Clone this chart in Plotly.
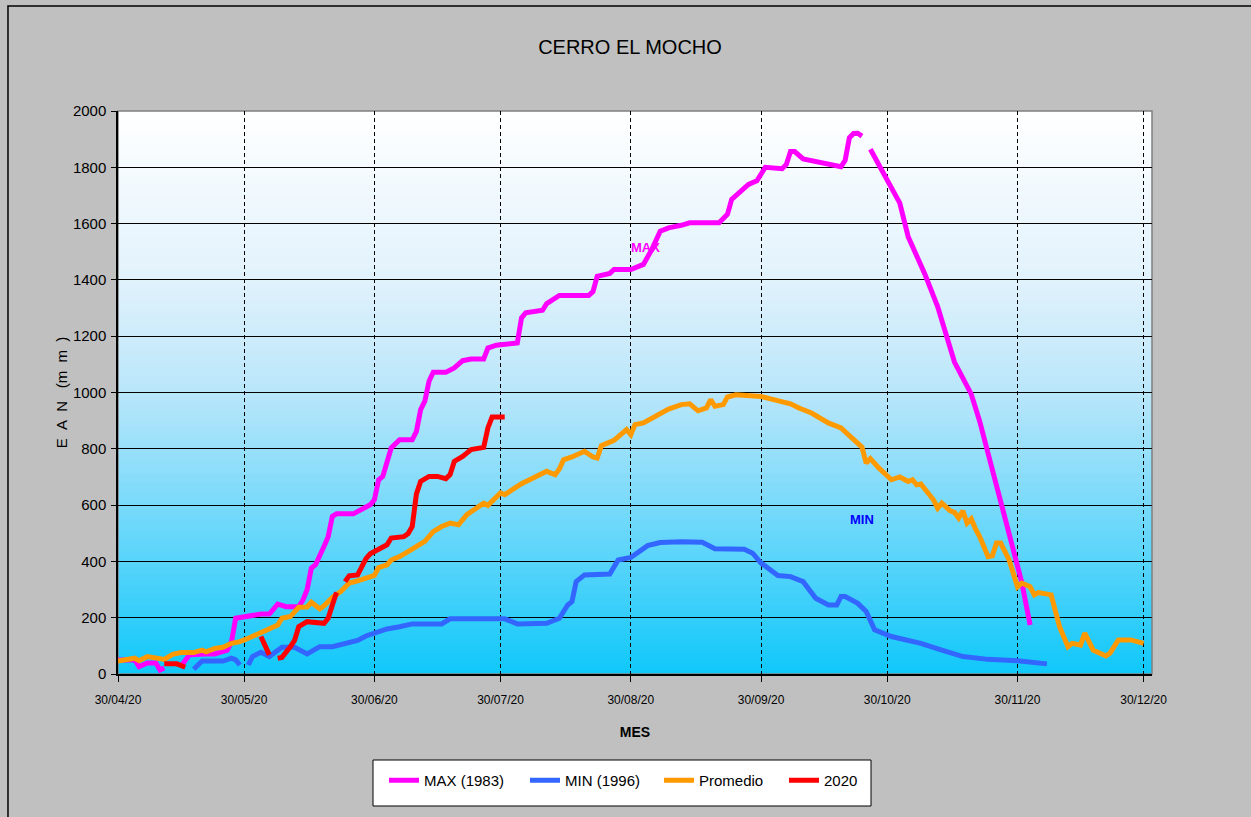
import plotly.graph_objects as go

# EAN (mm) por fecha
max_fechas = ["2020-04-30", "2020-05-04", "2020-05-05", "2020-05-07", "2020-05-09", "2020-05-10", "2020-05-11",
              "2020-05-12", "2020-05-15", "2020-05-17", "2020-05-21", "2020-05-23", "2020-05-26", "2020-05-27",
              "2020-05-28", "2020-05-30", "2020-06-03", "2020-06-05", "2020-06-07", "2020-06-09", "2020-06-12",
              "2020-06-13", "2020-06-14", "2020-06-15", "2020-06-16", "2020-06-18", "2020-06-19", "2020-06-20",
              "2020-06-21", "2020-06-25", "2020-06-27", "2020-06-29", "2020-06-30", "2020-07-01", "2020-07-02",
              "2020-07-04", "2020-07-06", "2020-07-09", "2020-07-10", "2020-07-11", "2020-07-12", "2020-07-13",
              "2020-07-14", "2020-07-17", "2020-07-19", "2020-07-21", "2020-07-23", "2020-07-26", "2020-07-27",
              "2020-07-29", "2020-08-03", "2020-08-04", "2020-08-05", "2020-08-09", "2020-08-10", "2020-08-13",
              "2020-08-20", "2020-08-21", "2020-08-22", "2020-08-25", "2020-08-26", "2020-08-30", "2020-09-02",
              "2020-09-04", "2020-09-06", "2020-09-08", "2020-09-11", "2020-09-13", "2020-09-20", "2020-09-22",
              "2020-09-23", "2020-09-25", "2020-09-27", "2020-09-29", "2020-10-01", "2020-10-05", "2020-10-06",
              "2020-10-07", "2020-10-08", "2020-10-10", "2020-10-13", "2020-10-16", "2020-10-18", "2020-10-19",
              "2020-10-20", "2020-10-21", "2020-10-22", "2020-10-23", "2020-10-24", "2020-10-25", "2020-10-26",
              "2020-10-30", "2020-11-02", "2020-11-04", "2020-11-08", "2020-11-11", "2020-11-13", "2020-11-15",
              "2020-11-19", "2020-11-21", "2020-11-23", "2020-11-25", "2020-11-27", "2020-11-29", "2020-12-01",
              "2020-12-03"]
max_ean = [50, 50, 26, 39, 39, 14, 21,
           None, 28, 68, 71, 71, 85, 115,
           198, 204, 213, 213, 248, 239, 239,
           263, 300, 376, 388, 453, 488, 560,
           569, 569, 586, 601, 619, 690, 702,
           803, 832, 832, 862, 939, 969, 1040,
           1072, 1072, 1087, 1113, 1119, 1119, 1158,
           1168, 1176, 1265, 1283, 1292, 1316, 1345,
           1345, 1358, 1413, 1423, 1437, 1437, 1455,
           1508, 1573, 1585, 1594, 1603, 1603, 1633,
           1686, 1710, 1739, 1752, 1800, 1795, 1810,
           1856, 1856, 1830, 1821, 1812, 1802, 1802,
           1825, 1905, 1920, 1921, 1911, None, 1864,
           1750, 1673, 1553, 1419, 1305, 1203, 1108,
           994, 898, 784, 670, 555, 441, 327,
           174]

min_fechas = ["2020-05-18", "2020-05-20", "2020-05-25", "2020-05-26", "2020-05-27", "2020-05-28", "2020-05-29",
              "2020-05-30", "2020-05-31", "2020-06-01", "2020-06-03", "2020-06-05", "2020-06-08", "2020-06-11",
              "2020-06-14", "2020-06-17", "2020-06-20", "2020-06-23", "2020-06-26", "2020-06-28", "2020-07-01",
              "2020-07-03", "2020-07-06", "2020-07-09", "2020-07-16", "2020-07-18", "2020-07-31", "2020-08-03",
              "2020-08-10", "2020-08-13", "2020-08-15", "2020-08-16", "2020-08-17", "2020-08-19", "2020-08-25",
              "2020-08-27", "2020-08-30", "2020-09-01", "2020-09-03", "2020-09-06", "2020-09-11", "2020-09-16",
              "2020-09-19", "2020-09-26", "2020-09-28", "2020-09-30", "2020-10-02", "2020-10-04", "2020-10-07",
              "2020-10-10", "2020-10-13", "2020-10-16", "2020-10-18", "2020-10-19", "2020-10-20", "2020-10-23",
              "2020-10-25", "2020-10-27", "2020-10-31", "2020-11-07", "2020-11-12", "2020-11-17", "2020-11-23",
              "2020-11-30", "2020-12-07"]
min_ean = [17, 46, 46, 53, 56, 50, 32,
           None, 32, 62, 77, 62, 95, 95,
           71, 97, 97, 109, 119, 135, 148,
           160, 168, 178, 178, 196, 196, 178,
           180, 198, 245, 257, 328, 352, 355,
           405, 414, 435, 456, 467, 470, 468,
           445, 443, 429, 394, 372, 350, 346,
           328, 269, 245, 245, 275, 275, 251,
           222, 157, 133, 109, 85, 62, 52,
           47, 36]

prom_fechas = ["2020-04-30", "2020-05-04", "2020-05-05", "2020-05-07", "2020-05-11", "2020-05-13", "2020-05-15",
               "2020-05-18", "2020-05-20", "2020-05-21", "2020-05-23", "2020-05-25", "2020-05-27", "2020-05-29",
               "2020-05-31", "2020-06-03", "2020-06-05", "2020-06-07", "2020-06-08", "2020-06-10", "2020-06-12",
               "2020-06-14", "2020-06-15", "2020-06-17", "2020-06-18", "2020-06-20", "2020-06-22", "2020-06-24",
               "2020-06-26", "2020-06-28", "2020-06-30", "2020-07-01", "2020-07-03", "2020-07-04", "2020-07-06",
               "2020-07-08", "2020-07-10", "2020-07-12", "2020-07-14", "2020-07-16", "2020-07-18", "2020-07-20",
               "2020-07-22", "2020-07-24", "2020-07-26", "2020-07-27", "2020-07-29", "2020-07-30", "2020-07-31",
               "2020-08-02", "2020-08-04", "2020-08-07", "2020-08-10", "2020-08-12", "2020-08-13", "2020-08-14",
               "2020-08-16", "2020-08-19", "2020-08-21", "2020-08-22", "2020-08-23", "2020-08-26", "2020-08-28",
               "2020-08-29", "2020-08-30", "2020-08-31", "2020-09-02", "2020-09-04", "2020-09-08", "2020-09-11",
               "2020-09-13", "2020-09-15", "2020-09-17", "2020-09-18", "2020-09-19", "2020-09-21", "2020-09-22",
               "2020-09-24", "2020-09-26", "2020-09-30", "2020-10-02", "2020-10-07", "2020-10-09", "2020-10-12",
               "2020-10-16", "2020-10-19", "2020-10-21", "2020-10-24", "2020-10-25", "2020-10-26", "2020-10-28",
               "2020-10-30", "2020-10-31", "2020-11-02", "2020-11-04", "2020-11-05", "2020-11-06", "2020-11-07",
               "2020-11-10", "2020-11-11", "2020-11-12", "2020-11-14", "2020-11-15", "2020-11-16", "2020-11-17",
               "2020-11-18", "2020-11-19", "2020-11-20", "2020-11-21", "2020-11-23", "2020-11-24", "2020-11-25",
               "2020-11-26", "2020-11-28", "2020-11-29", "2020-11-30", "2020-12-01", "2020-12-03", "2020-12-04",
               "2020-12-05", "2020-12-08", "2020-12-09", "2020-12-10", "2020-12-12", "2020-12-13", "2020-12-15",
               "2020-12-16", "2020-12-18", "2020-12-19", "2020-12-21", "2020-12-22", "2020-12-24", "2020-12-27",
               "2020-12-30"]
prom_ean = [46, 56, 47, 62, 52, 70, 76,
            76, 85, 79, 91, 95, 109, 115,
            127, 148, 160, 174, 198, 204, 237,
            238, 255, 231, 242, 272, 293, 323,
            331, 340, 350, 378, 388, 405, 417,
            435, 453, 471, 506, 524, 536, 530,
            566, 589, 607, 599, 631, 643, 637,
            657, 676, 698, 720, 708, 728, 761,
            771, 791, 771, 767, 811, 830, 854,
            868, 850, 886, 892, 909, 941, 957,
            960, 935, 945, 975, 951, 957, 984,
            992, 990, 986, 978, 960, 945, 927,
            892, 874, 847, 806, 749, 765, 732,
            702, 690, 700, 684, 690, 672, 675,
            619, 589, 607, 580, 574, 554, 580,
            536, 551, 515, 488, 417, 420, 465,
            465, 405, 364, 310, 323, 310, 281,
            289, 281, 228, 168, 97, 109, 103,
            145, 85, 79, 64, 74, 121, 121,
            109]

f2020_fechas = ["2020-05-11", "2020-05-14", "2020-05-16", "2020-05-17", "2020-06-03", "2020-06-05", "2020-06-06",
                "2020-06-07", "2020-06-08", "2020-06-10", "2020-06-11", "2020-06-12", "2020-06-14", "2020-06-18",
                "2020-06-19", "2020-06-20", "2020-06-21", "2020-06-22", "2020-06-23", "2020-06-24", "2020-06-26",
                "2020-06-27", "2020-06-28", "2020-06-29", "2020-06-30", "2020-07-02", "2020-07-03", "2020-07-04",
                "2020-07-07", "2020-07-08", "2020-07-09", "2020-07-10", "2020-07-11", "2020-07-13", "2020-07-15",
                "2020-07-17", "2020-07-18", "2020-07-19", "2020-07-21", "2020-07-23", "2020-07-25", "2020-07-26",
                "2020-07-27", "2020-07-28", "2020-07-31"]
f2020_ean = [36, 36, 24, None, 133, 68, None,
             56, 59, 97, 119, 168, 186, 180,
             198, 245, 290, None, 328, 349, 352,
             380, 410, 427, 435, 453, 459, 483,
             488, 498, 524, 640, 684, 702, 702,
             694, 708, 755, 773, 797, 805, 805,
             874, 913, 913]

meses = ["2020-04-30", "2020-05-30", "2020-06-30", "2020-07-30", "2020-08-30",
         "2020-09-30", "2020-10-30", "2020-11-30", "2020-12-30"]
meses_txt = ["30/04/20", "30/05/20", "30/06/20", "30/07/20", "30/08/20",
             "30/09/20", "30/10/20", "30/11/20", "30/12/20"]

fuente = "Liberation Sans, Arial, sans-serif"

fig = go.Figure()
fig.add_trace(go.Scatter(x=max_fechas, y=max_ean, mode="lines", name="MAX (1983)", legendwidth=96,
                         line=dict(color="#FF00FF", width=5)))
fig.add_trace(go.Scatter(x=min_fechas, y=min_ean, mode="lines", name="MIN (1996)", legendwidth=89,
                         line=dict(color="#3366FF", width=5)))
fig.add_trace(go.Scatter(x=prom_fechas, y=prom_ean, mode="lines", name="Promedio", legendwidth=80,
                         line=dict(color="#FF9900", width=5)))
fig.add_trace(go.Scatter(x=f2020_fechas, y=f2020_ean, mode="lines", name="2020", legendwidth=40,
                         line=dict(color="#FF0000", width=5)))

# fondo degradado blanco -> celeste del area de grafico
paradas = [(0.0, (255, 255, 255)), (0.3, (225, 242, 252)), (0.5, (185, 230, 250)),
           (0.8, (88, 212, 250)), (1.0, (15, 200, 250))]


def color_en(t):
    for (t0, c0), (t1, c1) in zip(paradas[:-1], paradas[1:]):
        if t <= t1:
            f = (t - t0) / (t1 - t0)
            return "rgb(%d,%d,%d)" % tuple(round(a + (b - a) * f) for a, b in zip(c0, c1))
    return "rgb(%d,%d,%d)" % paradas[-1][1]


n = 140
formas = []
for i in range(n):
    formas.append(dict(type="rect", xref="paper", yref="paper", x0=0, x1=1,
                       y0=max(0, 1 - (i + 1) / n - 0.002), y1=1 - i / n,
                       fillcolor=color_en((i + 0.5) / n), line=dict(width=0), layer="below"))
# borde del area de grafico
formas.append(dict(type="rect", xref="paper", yref="paper", x0=0, x1=1, y0=0, y1=1,
                   line=dict(color="#808080", width=1.5), layer="below"))
# borde exterior del grafico
formas.append(dict(type="rect", xref="paper", yref="paper", x0=-0.1064, x1=1.3, y0=-0.5, y1=1.1865,
                   line=dict(color="black", width=1.5), layer="below"))
# recuadro de la leyenda
formas.append(dict(type="rect", xref="paper", yref="paper", x0=(373 - 118) / 1034, x1=(871 - 118) / 1034,
                   y0=-(806 - 674) / 563, y1=-(760 - 674) / 563,
                   fillcolor="white", line=dict(color="black", width=1), layer="below"))

fig.update_layout(
    width=1251, height=817,
    margin=dict(l=118, r=99, t=111, b=143),
    paper_bgcolor="#C0C0C0",
    plot_bgcolor="rgba(0,0,0,0)",
    shapes=formas,
    title=dict(text="CERRO EL MOCHO", x=630 / 1251, xanchor="center", y=1 - 47 / 817, yanchor="middle",
               font=dict(family=fuente, size=20, color="black")),
    font=dict(family=fuente, color="black"),
    showlegend=True,
    legend=dict(orientation="h", x=(384 - 118) / 1034, xanchor="left", y=-(764 - 674) / 563, yanchor="top",
                bgcolor="rgba(0,0,0,0)", borderwidth=0,
                font=dict(family=fuente, size=15, color="black")),
    xaxis=dict(type="date", range=["2020-04-30", "2021-01-01"],
               tickvals=meses, ticktext=meses_txt, tickfont=dict(size=12),
               ticks="outside", ticklen=6, tickcolor="black", ticklabelstandoff=8,
               showgrid=True, gridcolor="black", gridwidth=1, griddash="4px,3px",
               showline=True, linecolor="black", linewidth=1.5, zeroline=False,
               title=dict(text="<b>MES</b>", font=dict(family=fuente, size=14),
                          standoff=21)),
    yaxis=dict(range=[0, 2000], dtick=200, tickfont=dict(size=15),
               ticks="outside", ticklen=5, tickcolor="black", ticklabelstandoff=2,
               showgrid=True, gridcolor="black", gridwidth=1,
               showline=True, linecolor="black", linewidth=1.5, zeroline=False,
               title=dict(text="E\u00a0\u00a0A\u00a0\u00a0N\u00a0\u00a0\u00a0(m\u00a0\u00a0m\u00a0\u00a0)",
                          font=dict(family=fuente, size=15), standoff=2)),
)

fig.add_annotation(x="2020-09-02 10:00", y=1515, text="<b>MAX</b>", showarrow=False,
                   font=dict(family=fuente, size=13, color="#FF00FF"))
fig.add_annotation(x="2020-10-24 02:00", y=548, text="<b>MIN</b>", showarrow=False,
                   font=dict(family=fuente, size=13, color="#0000FF"))

fig.write_html("out.html", config={"displayModeBar": False},
               post_script="document.body.style.margin='0';document.body.style.background='#C0C0C0';")
